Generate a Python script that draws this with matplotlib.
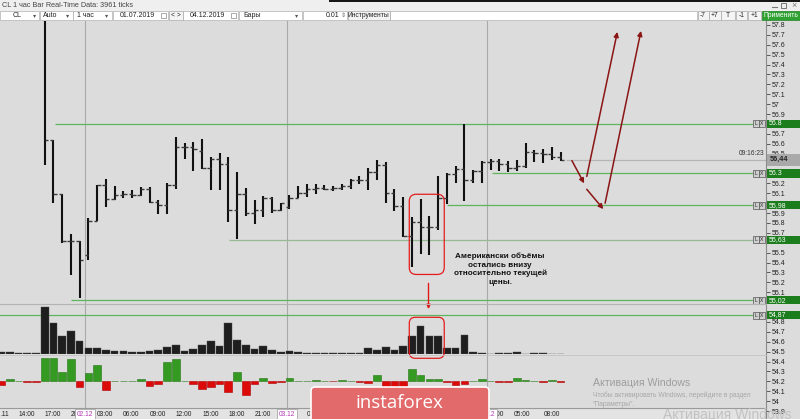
import matplotlib
matplotlib.use("Agg")
import matplotlib.pyplot as plt
import numpy as np
from matplotlib.patches import FancyBboxPatch, Rectangle
from matplotlib.ticker import FixedLocator, FuncFormatter

plt.rcParams["font.family"] = ["Liberation Sans", "DejaVu Sans"]

# CL, 1 hour bars (bar 0 is the first one visible in the price window)
opens = [57.95, 56.64, 56.09, 55.62, 55.62, 55.48, 55.82, 56.18, 56.04, 56.08,
         56.09, 56.08, 56.14, 56.01, 55.98, 56.18, 56.57, 56.57, 56.53, 56.36,
         56.45, 56.40, 55.93, 56.09, 55.90, 55.93, 56.05, 55.93, 55.96, 56.05,
         56.10, 56.14, 56.15, 56.14, 56.15, 56.17, 56.23, 56.23, 56.31, 56.39,
         56.10, 55.97, 55.67, 55.81, 55.76, 55.76, 56.05, 56.29, 56.35, 56.23,
         56.32, 56.42, 56.43, 56.40, 56.36, 56.38, 56.52, 56.51, 56.50, 56.47]
highs = [58.30, 56.64, 56.09, 55.69, 55.62, 55.85, 56.18, 56.24, 56.17, 56.12,
         56.13, 56.16, 56.16, 56.03, 56.20, 56.67, 56.61, 56.62, 56.65, 56.47,
         56.51, 56.47, 56.31, 56.15, 56.03, 56.07, 56.06, 56.00, 56.08, 56.17,
         56.19, 56.19, 56.18, 56.17, 56.19, 56.24, 56.27, 56.36, 56.44, 56.42,
         56.14, 56.06, 55.86, 56.04, 55.87, 56.27, 56.30, 56.38, 56.80, 56.34,
         56.43, 56.45, 56.45, 56.43, 56.44, 56.61, 56.54, 56.55, 56.57, 56.52]
lows = [56.39, 56.00, 55.60, 55.27, 55.04, 55.43, 55.82, 55.96, 56.03, 56.05,
        56.05, 56.07, 56.00, 55.89, 55.89, 56.14, 56.45, 56.32, 56.35, 56.13,
        56.13, 55.81, 55.64, 55.87, 55.79, 55.86, 55.90, 55.92, 55.94, 56.05,
        56.06, 56.09, 56.13, 56.12, 56.13, 56.14, 56.19, 56.13, 56.23, 56.00,
        55.92, 55.66, 55.36, 55.49, 55.48, 55.73, 55.99, 56.20, 56.02, 56.20,
        56.20, 56.33, 56.32, 56.31, 56.32, 56.36, 56.42, 56.41, 56.44, 56.43]
closes = [56.64, 56.09, 55.62, 55.62, 55.43, 55.82, 56.18, 56.04, 56.08, 56.09,
          56.08, 56.14, 56.01, 55.98, 56.18, 56.57, 56.57, 56.55, 56.36, 56.45,
          56.40, 55.93, 56.09, 55.90, 55.93, 56.05, 55.93, 56.00, 56.05, 56.10,
          56.14, 56.15, 56.14, 56.15, 56.17, 56.23, 56.23, 56.31, 56.39, 56.10,
          55.97, 55.67, 55.81, 55.76, 55.76, 56.05, 56.29, 56.35, 56.23, 56.32,
          56.42, 56.43, 56.40, 56.36, 56.38, 56.52, 56.51, 56.50, 56.47, 56.44]

# volume and delta panels start 5 hours before bar 0
ind_start = -5
volumes = [2, 2, 1.5, 1, 1.5,
           47, 31, 18, 23, 13, 6, 6, 4, 3, 3,
           2, 2, 3, 4, 7, 9, 3, 5, 9, 13,
           8, 31, 14, 9, 5, 8, 4, 2, 3, 2,
           1, 1, 1, 1, 1, 1, 1, 5.7, 4, 7.3,
           4, 8.3, 18, 28.3, 17.7, 18.3, 6, 6, 19.3, 1.7,
           1.5, 0.5, 1.5, 0.8, 1.8, 0.5, 1, 1, 0.5, 0.3]
delta = [-4.3, 2.4, 0.4, -0.5, -1.0,
         23, 23, 9, 22, -5.5, 8.5, 16, -8.5, 0.5, 0.4,
         0.4, 1.7, -5, -2.7, 19, 22, 0.4, -3.3, -7.5, -5.7,
         -3.3, -11, 9, -14.3, -2.7, 3.3, -2.3, -0.6, 2.7, 0.4,
         0.4, 1.5, 0.3, -0.4, 1.5, 0.5, -0.5, -2, 5.7, -6,
         -6, -6, 12.4, 5.7, 2.4, 2.4, -0.5, -4.3, -2.6, 0.5,
         2.4, 0.3, -0.7, -0.8, 3, 1.5, 0.4, -0.8, 1.5, -0.8]

# horizontal levels drawn by hand
level_prices = [56.8, 56.3, 55.98, 55.63, 55.02, 54.87]
level_labels = ["56.8", "56.3", "55,98", "55,63", "55,02", "54,87"]
level_from = [1.2, 51.2, 46.0, 21.1, 3.0, -5.2]

time_pos = [-4.6, -2.1, 0.9, 3.9, 6.9, 9.9, 13.0, 15.9, 19.0, 22.0, 25.0,
            30.9, 33.9, 36.9, 39.9, 42.9, 45.9, 48.9, 51.6, 54.6, 58.0]
time_lbl = [".11", "14:00", "17:00", "20:00", "03:00", "06:00", "09:00", "12:00",
            "15:00", "18:00", "21:00", "03:00", "06:00", "09:00", "12:00", "15:00",
            "18:00", "21:00", "02:00", "05:00", "08:00"]
day_pos = [4.6, 27.7, 50.6]
day_lbl = ["02.12", "03.12", "04.12"]

W, H = 800, 419
BG = "#dcdcdc"
Y0, Y1 = 53.82, 57.84


def frac(x0, y0, x1, y1):
    # pixel box, origin top-left -> figure fraction rect
    return [x0 / W, 1 - y1 / H, (x1 - x0) / W, (y1 - y0) / H]


def px(axes, x, y):
    dx, dy = axes.transData.transform((x, y))
    return dx, H - dy


fig = plt.figure(figsize=(W / 100, H / 100), dpi=100, facecolor=BG)
ax = fig.add_axes(frac(0, 21, 766, 419))
vax = fig.add_axes(frac(0, 304, 766, 354), sharex=ax)
dax = fig.add_axes(frac(0, 355, 766, 408), sharex=ax)
tax = fig.add_axes(frac(0, 408, 766, 419), sharex=ax)
ov = fig.add_axes([0, 0, 1, 1])
ov.set_xlim(0, W)
ov.set_ylim(H, 0)
ov.axis("off")
ov.patch.set_alpha(0)

last = closes[-1]
px_per_price = (419 - 21) / (Y1 - Y0)
covered = level_prices + [last]


def price_fmt(v, pos):
    # labels hidden under the level boxes are not shown
    if min(abs(v - c) for c in covered) * px_per_price < 4.5:
        return ""
    return f"{v:g}"


# ---- price panel
ax.set_facecolor(BG)
ax.set_xlim(-5.11, 82.5)
ax.set_ylim(Y0, Y1)
ax.set_xticks([])
for s in ["top", "left", "bottom"]:
    ax.spines[s].set_visible(False)
ax.spines["right"].set_color("#8a8a8a")
ax.spines["right"].set_linewidth(0.8)
ax.yaxis.tick_right()
ax.yaxis.set_major_locator(FixedLocator(np.round(np.arange(53.8, 57.85, 0.1), 1)))
ax.yaxis.set_major_formatter(FuncFormatter(price_fmt))
ax.tick_params(axis="y", length=3, width=0.6, color="#444", pad=1,
               labelsize=5, labelcolor="#222")

for xd in day_pos:
    ax.axvline(xd, color="#a9a9a9", lw=0.8, zorder=1)

idx = np.arange(len(closes))
ax.vlines(idx, lows, highs, color="#111", lw=1.5, zorder=3)
ax.hlines(opens, idx - 0.4, idx, color="#3a3a3a", lw=1, zorder=3)
ax.hlines(closes, idx, idx + 0.4, color="#3a3a3a", lw=1, zorder=3)

x_end = 81.0
for lv, x0 in zip(level_prices, level_from):
    c = "#94bb94" if lv == 55.63 else "#5fb55f"
    ax.hlines(lv, x0, x_end, color=c, lw=0.9, zorder=2)

ax.hlines(last, idx[-1] + 0.6, 82.5, color="#b5b5b5", lw=0.9, zorder=2)

# forecast arrows
fc = "#8b1414"
for (x0, y0), (x1, y1) in [((60.3, 56.43), (61.7, 56.20)),
                           ((62.0, 56.14), (63.9, 55.94)),
                           ((62.0, 56.27), (65.5, 57.73)),
                           ((64.1, 56.00), (68.2, 57.74))]:
    ax.annotate("", xy=(x1, y1), xytext=(x0, y0),
                arrowprops=dict(arrowstyle="-|>", color=fc, lw=1.1,
                                mutation_scale=7, shrinkA=0, shrinkB=0))

ax.annotate("", xy=(43.9, 54.93), xytext=(43.9, 55.19), annotation_clip=False,
            arrowprops=dict(arrowstyle="-|>", color="#e01818", lw=1,
                            mutation_scale=6, shrinkA=0, shrinkB=0))

ax.text(52.1, 55.50, "Американски объёмы\nостались внизу\nотносительно текущей\nцены.",
        ha="center", va="top", fontsize=5.9, fontweight="bold", color="#111",
        linespacing=1.25)

# ---- volume panel
ind_idx = np.arange(len(volumes)) + ind_start
vax.bar(ind_idx, volumes, width=0.88, color="#1e1e1e", edgecolor="#4a4a4a", lw=0.3)
vax.set_ylim(0, 50)
vax.axis("off")
vax.patch.set_alpha(0)

# ---- delta panel
dcol = ["#349a22" if d > 0 else "#dd0a0a" for d in delta]
ecol = ["#237514" if d > 0 else "#b00000" for d in delta]
dax.bar(ind_idx, delta, width=0.88, color=dcol, edgecolor=ecol, lw=0.4)
dax.set_ylim(-27, 26)
dax.axis("off")
dax.patch.set_alpha(0)

# ---- time axis band
tax.set_facecolor("#e3e3e3")
tax.set_ylim(0, 1)
tax.set_yticks([])
for s in ["left", "right", "bottom"]:
    tax.spines[s].set_visible(False)
tax.spines["top"].set_color("#9a9a9a")
tax.spines["top"].set_linewidth(0.8)
for p, l in zip(time_pos, time_lbl):
    tax.text(p, 0.45, l, ha="center", va="center", fontsize=4.8, color="#222")
for p, l in zip(day_pos, day_lbl):
    tax.text(p, 0.45, l, ha="center", va="center", fontsize=4.8, color="#b53bb5",
             bbox=dict(boxstyle="square,pad=0.25", fc="white", ec="#9a9a9a", lw=0.5))

# ---- chrome drawn in pixel space
ov.plot([0, 766], [304, 304], color="#b3b3b3", lw=0.8)
ov.plot([0, 766], [355, 355], color="#c4c4c4", lw=0.6)

for lv, lab in zip(level_prices, level_labels):
    _, yp = px(ax, 0, lv)
    for xi, ch in [(753, "L"), (759, "X")]:
        ov.add_patch(Rectangle((xi, yp - 3.5), 6, 7, fc="#cfcfcf", ec="#555", lw=0.5))
        ov.text(xi + 3, yp, ch, fontsize=3.6, ha="center", va="center", color="#222")
    ov.add_patch(Rectangle((767, yp - 4.3), 33, 8.6, fc="#1b7d1b", ec="none"))
    ov.text(769, yp, lab, fontsize=5, color="white", va="center")

_, yl = px(ax, 0, last)
ov.add_patch(Rectangle((767, yl - 6), 33, 12, fc="#a9a9a9", ec="none"))
ov.text(770, yl, f"{last:.2f}".replace(".", ","), fontsize=5.3, fontweight="bold",
        color="#222", va="center")
ov.text(764, yl - 6, "09:16:23", fontsize=4.8, color="#333", ha="right", va="center")

# red frames
xa, ya = px(ax, 41.7, 56.09)
xb, yb = px(ax, 45.7, 55.28)
ov.add_patch(FancyBboxPatch((xa, ya), xb - xa, yb - ya,
                            boxstyle="round,pad=0,rounding_size=7",
                            fc="none", ec="#e41c1c", lw=0.9))
xa, ya = px(vax, 41.7, 36.7)
xb, yb = px(vax, 45.7, -4.3)
ov.add_patch(FancyBboxPatch((xa, ya), xb - xa, yb - ya,
                            boxstyle="round,pad=0,rounding_size=6",
                            fc="none", ec="#e41c1c", lw=0.9))

# title bar and toolbar
ov.add_patch(Rectangle((0, 0), W, 21, fc="#efefef", ec="none"))
ov.plot([330, 800], [0.6, 0.6], color="#111", lw=1.4)
ov.text(2, 5.5, "CL 1 час Bar Real-Time Data: 3961 ticks", fontsize=5.2,
        color="#444", va="center")
ov.plot([772, 777], [7.5, 7.5], color="#777", lw=0.8)
ov.add_patch(Rectangle((781, 3), 5, 5, fc="none", ec="#777", lw=0.7))
ov.text(794, 5.5, "×", fontsize=6.5, color="#777", ha="center", va="center")

fields = [(0, 39, "CL", 13, True), (40, 72.5, "Auto", 43, True),
          (73, 111.5, "1 час", 77, True), (113, 168, "01.07.2019", 120, False),
          (183, 238, "04.12.2019", 190, False), (239, 301.5, "Бары", 243, True),
          (390, 697, "", 0, False)]
for x0, x1, lab, tx, arrow in fields:
    ov.add_patch(Rectangle((x0, 11), x1 - x0, 9.5, fc="white", ec="#b0b0b0", lw=0.5))
    ov.text(tx, 15.8, lab, fontsize=5, color="#222", va="center")
    if arrow:
        ov.text(x1 - 4.5, 15.8, "▾", fontsize=4.5, color="#555", ha="center", va="center")
for xc in [163.5, 233.5]:
    ov.add_patch(Rectangle((xc - 2.5, 13.5), 5, 4.5, fc="none", ec="#888", lw=0.5))
ov.add_patch(Rectangle((302.5, 11), 44, 9.5, fc="white", ec="#b0b0b0", lw=0.5))
ov.text(339, 15.8, "0.01", fontsize=5, color="#222", va="center", ha="right")
ov.text(343.5, 15.8, "⇕", fontsize=4.5, color="#666", ha="center", va="center")

buttons = [(169, 182.5, "< >"), (347.5, 390, "Инструменты"), (697.5, 708.5, "-7"),
           (709, 720.5, "+7"), (720.5, 735, "T"), (735.5, 747, "-1"), (747.5, 761, "+1")]
for x0, x1, lab in buttons:
    ov.add_patch(Rectangle((x0, 11), x1 - x0, 9.5, fc="#f4f4f4", ec="#a8a8a8", lw=0.5))
    ov.text((x0 + x1) / 2, 15.8, lab, fontsize=4.8, color="#222", ha="center", va="center")
ov.add_patch(Rectangle((761.5, 11), 38.5, 9.5, fc="#2fa032", ec="#1f7f22", lw=0.5))
ov.text(780.7, 15.8, "Применить", fontsize=4.8, color="white", ha="center", va="center")

# watermarks and banner
ov.text(593, 382.5, "Активация Windows", fontsize=7.6, color="#9d9d9d", va="center")
ov.text(593, 395, "Чтобы активировать Windows, перейдите в раздел", fontsize=4.8,
        color="#a6a6a6", va="center")
ov.text(593, 404, "\"Параметры\".", fontsize=4.8, color="#a6a6a6", va="center")
ov.text(663, 414.5, "Активация Windows", fontsize=10, color="#c2c2c2", va="center")

ov.add_patch(FancyBboxPatch((311, 387), 178, 40, boxstyle="round,pad=0,rounding_size=4",
                            fc="#e36a6a", ec="white", lw=1.2))
ov.text(399, 403, "instaforex", color="white", fontsize=13.5, ha="center", va="center",
        family=["Open Sans", "DejaVu Sans"])

fig.savefig("out.png", dpi=100, facecolor=BG)
